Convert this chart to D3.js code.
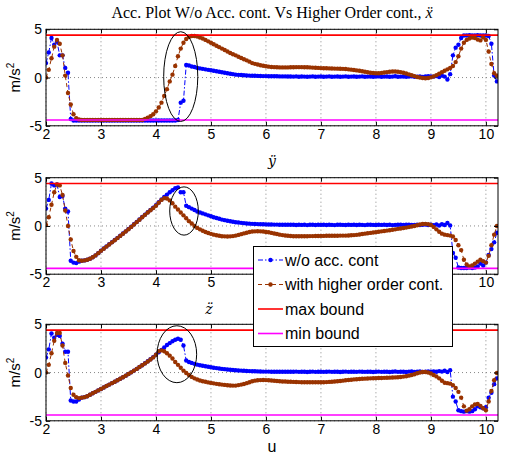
<!DOCTYPE html>
<html>
<head>
<meta charset="utf-8">
<script src="https://cdn.jsdelivr.net/npm/d3@7"></script>
<style>
  body { margin: 0; background: #fff; }
</style>
</head>
<body>
<div id="vis"></div>
<script>
// sample times, 2.00 .. 10.20 every 0.05
var t = d3.range(165).map(i => +(2 + i * 0.05).toFixed(2));

// x acceleration
var xWo = [
  1.5, 2.6, 4.1, 3.4, 3.7, 2.3, 2.3, 1.0, 0.5, -4.3,
  -4.45, -4.45, -4.45, -4.45, -4.45, -4.45, -4.45, -4.45, -4.45, -4.45,
  -4.45, -4.45, -4.45, -4.45, -4.45, -4.45, -4.45, -4.45, -4.45, -4.45,
  -4.45, -4.45, -4.45, -4.45, -4.45, -4.45, -4.45, -4.45, -4.45, -4.45,
  -4.45, -4.45, -4.45, -4.45, -4.45, -4.45, -4.45, -4.45, -4.4, -2.6,
  -2.4, 1.3, 1.25, 1.15, 1.1, 1.0, 0.95, 0.9, 0.85, 0.8,
  0.75, 0.7, 0.65, 0.6, 0.55, 0.5, 0.45, 0.4, 0.35, 0.3,
  0.28, 0.26, 0.24, 0.22, 0.2, 0.19, 0.18, 0.17, 0.16, 0.15,
  0.15, 0.14, 0.14, 0.13, 0.13, 0.12, 0.12, 0.12, 0.11, 0.11,
  0.1, 0.12, 0.09, 0.11, 0.1, 0.08, 0.1, 0.12, 0.09, 0.1,
  0.11, 0.08, 0.1, 0.12, 0.09, 0.1, 0.11, 0.08, 0.1, 0.12,
  0.09, 0.1, 0.11, 0.08, 0.1, 0.12, 0.09, 0.1, 0.11, 0.08,
  0.1, 0.12, 0.09, 0.1, 0.11, 0.08, 0.1, 0.13, 0.09, 0.1,
  0.11, 0.07, 0.1, 0.13, 0.09, 0.1, 0.12, 0.07, 0.11, 0.13,
  0.12, 0.1, 0.15, 0.05, 0.2, 0.1, -0.2, 0.35, 2.3, 3.1,
  3.4, 4.1, 4.35, 4.35, 4.4, 4.35, 4.35, 4.4, 4.35, 4.35,
  4.35, 4.3, 3.5, 0.2, -0.4
];
var xHo = [
  0.0, 0.8, 2.0, 3.2, 3.9, 3.5, 2.3, 0.2, -1.6, -2.8,
  -3.8, -4.2, -4.35, -4.4, -4.4, -4.4, -4.4, -4.4, -4.4, -4.4,
  -4.4, -4.4, -4.4, -4.4, -4.4, -4.4, -4.4, -4.4, -4.4, -4.4,
  -4.4, -4.4, -4.4, -4.4, -4.4, -4.4, -4.3, -4.15, -4.0, -3.8,
  -3.5, -3.1, -2.6, -1.9, -1.2, -0.4, 0.3, 1.2, 2.2, 3.0,
  3.6, 4.0, 4.2, 4.3, 4.3, 4.25, 4.15, 4.05, 3.9, 3.75,
  3.6, 3.45, 3.3, 3.15, 3.0, 2.85, 2.7, 2.55, 2.42, 2.3,
  2.15, 2.02, 1.9, 1.78, 1.65, 1.5, 1.42, 1.35, 1.28, 1.22,
  1.17, 1.13, 1.1, 1.08, 1.06, 1.05, 1.05, 1.05, 1.05, 1.06,
  1.07, 1.08, 1.08, 1.08, 1.07, 1.06, 1.05, 1.03, 1.02, 1.0,
  0.98, 0.97, 0.96, 0.95, 0.94, 0.93, 0.92, 0.91, 0.9, 0.88,
  0.85, 0.82, 0.78, 0.74, 0.7, 0.65, 0.6, 0.55, 0.5, 0.47,
  0.45, 0.45, 0.48, 0.52, 0.56, 0.6, 0.62, 0.62, 0.6, 0.56,
  0.5, 0.42, 0.33, 0.24, 0.15, 0.06, 0.0, -0.05, -0.08, -0.05,
  0.02, 0.12, 0.25, 0.4, 0.55, 0.7, 0.85, 1.0, 1.2, 1.6,
  2.2, 3.0, 3.6, 3.9, 4.05, 4.15, 4.1, 3.95, 3.85, 4.15,
  3.9, 2.7, 1.4, 0.45, 0.2
];

// y acceleration
var yWo = [
  1.8, 2.7, 4.4, 4.2, 4.3, 3.0, 3.1, 1.8, 1.5, -3.6,
  -3.8, -3.85, -3.7, -3.6, -3.57, -3.5, -3.4, -3.25, -3.05, -2.82,
  -2.56, -2.34, -2.12, -1.9, -1.68, -1.46, -1.24, -1.01, -0.79, -0.56,
  -0.32, -0.08, 0.17, 0.42, 0.67, 0.92, 1.17, 1.42, 1.65, 1.9,
  2.15, 2.45, 2.75, 3.0, 3.25, 3.5, 3.7, 3.9, 4.0, 3.5,
  3.5, 2.1, 1.95, 1.8, 1.65, 1.5, 1.4, 1.3, 1.2, 1.1,
  1.0, 0.9, 0.82, 0.74, 0.66, 0.6, 0.54, 0.48, 0.43, 0.39,
  0.35, 0.32, 0.29, 0.26, 0.24, 0.22, 0.2, 0.19, 0.18, 0.17,
  0.16, 0.15, 0.15, 0.14, 0.14, 0.13, 0.13, 0.12, 0.12, 0.12,
  0.12, 0.1, 0.13, 0.11, 0.12, 0.09, 0.12, 0.13, 0.1, 0.12,
  0.11, 0.13, 0.1, 0.12, 0.11, 0.09, 0.12, 0.13, 0.11, 0.1,
  0.12, 0.11, 0.13, 0.1, 0.12, 0.11, 0.09, 0.12, 0.13, 0.11,
  0.1, 0.12, 0.11, 0.13, 0.1, 0.12, 0.09, 0.11, 0.13, 0.12,
  0.1, 0.12, 0.14, 0.1, 0.11, 0.13, 0.09, 0.12, 0.15, 0.1,
  0.12, 0.08, 0.15, 0.05, 0.18, 0.1, 0.3, 0.05, -2.8, -3.3,
  -4.3, -4.35, -4.35, -4.35, -4.3, -4.35, -4.3, -4.2, -3.9, -4.1,
  -3.8, -3.0, -2.4, -1.7, -0.7
];
var yHo = [
  0.1, 0.9, 2.2, 3.5, 4.3, 4.2, 3.2, 1.6, 0.0, -1.4,
  -2.6, -3.2, -3.55, -3.6, -3.57, -3.5, -3.4, -3.25, -3.05, -2.82,
  -2.58, -2.36, -2.14, -1.92, -1.7, -1.48, -1.26, -1.03, -0.81, -0.58,
  -0.34, -0.1, 0.15, 0.4, 0.65, 0.9, 1.15, 1.4, 1.62, 1.85,
  2.1, 2.4, 2.7, 2.88, 2.85, 2.65, 2.35, 2.0, 1.7, 1.4,
  1.1, 0.8, 0.5, 0.25, 0.0, -0.2, -0.35, -0.5, -0.62, -0.73,
  -0.82, -0.9, -0.97, -1.02, -1.06, -1.08, -1.1, -1.08, -1.05, -1.0,
  -0.93, -0.85, -0.77, -0.7, -0.63, -0.58, -0.56, -0.55, -0.56, -0.58,
  -0.62, -0.66, -0.72, -0.78, -0.84, -0.9, -0.95, -0.99, -1.02, -1.04,
  -1.06, -1.07, -1.07, -1.07, -1.06, -1.06, -1.05, -1.05, -1.04, -1.04,
  -1.03, -1.03, -1.02, -1.02, -1.02, -1.01, -1.01, -1.0, -1.0, -1.0,
  -0.99, -0.97, -0.95, -0.92, -0.88, -0.84, -0.8, -0.76, -0.72, -0.68,
  -0.64, -0.6, -0.56, -0.52, -0.48, -0.44, -0.4, -0.35, -0.3, -0.26,
  -0.22, -0.17, -0.12, -0.06, 0.0, 0.08, 0.15, 0.2, 0.22, 0.18,
  0.1, -0.1, -0.35, -0.6, -0.8, -0.9, -0.95, -1.0, -1.1, -1.45,
  -2.0, -2.5, -3.5, -4.0, -4.2, -4.1, -3.9, -3.7, -3.5, -3.65,
  -3.8, -3.1, -2.0, -0.9, 0.0
];

// z acceleration
var zWo = [
  1.55, 2.4, 4.05, 3.6, 3.9, 3.8, 3.0, 2.15, 2.15, -2.9,
  -3.0, -3.0, -2.8, -2.6, -2.55, -2.45, -2.3, -2.15, -2.0, -1.85,
  -1.7, -1.55, -1.4, -1.25, -1.1, -0.95, -0.8, -0.64, -0.48, -0.32,
  -0.15, 0.02, 0.2, 0.38, 0.57, 0.76, 0.96, 1.17, 1.38, 1.6,
  1.85, 2.1, 2.35, 2.6, 2.85, 3.05, 3.25, 3.4, 3.5, 3.4,
  2.8, 1.25, 1.1, 1.0, 0.9, 0.82, 0.75, 0.7, 0.65, 0.6,
  0.55, 0.5, 0.46, 0.42, 0.38, 0.35, 0.32, 0.29, 0.26, 0.24,
  0.22, 0.2, 0.18, 0.16, 0.15, 0.14, 0.13, 0.12, 0.11, 0.1,
  0.1, 0.1, 0.09, 0.09, 0.09, 0.08, 0.08, 0.08, 0.08, 0.08,
  0.08, 0.1, 0.07, 0.09, 0.08, 0.06, 0.09, 0.1, 0.07, 0.08,
  0.09, 0.07, 0.08, 0.1, 0.07, 0.08, 0.09, 0.06, 0.08, 0.1,
  0.07, 0.08, 0.09, 0.07, 0.1, 0.08, 0.07, 0.09, 0.08, 0.06,
  0.08, 0.1, 0.07, 0.09, 0.08, 0.06, 0.09, 0.11, 0.07, 0.08,
  0.09, 0.06, 0.1, 0.12, 0.07, 0.09, 0.11, 0.06, 0.1, 0.12,
  0.1, 0.12, 0.08, 0.15, 0.1, 0.18, 0.05, 0.25, -2.5, -3.0,
  -3.9, -4.0, -4.05, -4.0, -4.05, -4.0, -3.8, -3.5, -3.6, -3.7,
  -3.6, -2.6, -2.1, -1.2, -0.6
];
var zHo = [
  0.0, 0.8, 2.0, 3.3, 4.1, 4.1, 2.8, 1.0, -0.3, -1.6,
  -2.3, -2.55, -2.65, -2.6, -2.55, -2.45, -2.3, -2.15, -2.0, -1.85,
  -1.7, -1.55, -1.4, -1.25, -1.1, -0.95, -0.8, -0.64, -0.48, -0.32,
  -0.15, 0.02, 0.2, 0.38, 0.57, 0.76, 0.95, 1.15, 1.35, 1.57,
  1.85, 2.2, 2.3, 2.2, 2.0, 1.75, 1.45, 1.1, 0.8, 0.5,
  0.2, -0.05, -0.25, -0.45, -0.6, -0.72, -0.82, -0.9, -0.96, -1.02,
  -1.07, -1.12, -1.17, -1.21, -1.25, -1.28, -1.32, -1.34, -1.35, -1.35,
  -1.3, -1.25, -1.18, -1.1, -1.0, -0.9, -0.84, -0.8, -0.78, -0.77,
  -0.78, -0.8, -0.82, -0.85, -0.87, -0.9, -0.92, -0.93, -0.95, -0.96,
  -0.97, -0.98, -0.99, -1.0, -1.0, -1.0, -1.0, -1.0, -1.0, -1.0,
  -1.0, -1.0, -0.99, -0.97, -0.95, -0.93, -0.9, -0.87, -0.84, -0.8,
  -0.77, -0.74, -0.71, -0.69, -0.67, -0.65, -0.63, -0.62, -0.6, -0.59,
  -0.58, -0.57, -0.56, -0.55, -0.54, -0.53, -0.52, -0.5, -0.48, -0.46,
  -0.42, -0.38, -0.32, -0.25, -0.17, -0.08, 0.0, 0.05, 0.05, 0.0,
  -0.1, -0.25, -0.4, -0.6, -0.85, -1.05, -1.1, -1.15, -1.3, -1.6,
  -2.0, -2.6, -3.5, -3.95, -3.8, -3.5, -3.3, -3.25, -3.45, -3.7,
  -3.9, -3.0, -1.9, -0.8, -0.05
];

var maxBound = 4.4, minBound = -4.4;
var xTicks = [2, 3, 4, 5, 6, 7, 8, 9, 10];
var yTicks = [-5, 0, 5];
var seriesNames = ['w/o acc. cont', 'with higher order cont.', 'max bound', 'min bound'];
var panelLabels = ['\u00ff', 'z\u0308'];
// circled regions, in data units: [panel, centre t, centre value, half-width, half-height]
var circles = [[0, 4.45, 0.1, 0.31, 4.65], [1, 4.51, 1.55, 0.26, 2.5], [2, 4.38, 1.9, 0.36, 2.95]];

var blue = '#0000ff', brown = '#993300', red = '#ff0000', magenta = '#ff00ff';

var W = 506, H = 458;
var plotL = 46, plotR = 498, plotH = 96.5;
var panelTops = [29.3, 177.7, 324.3];
var legBox = {x: 253.5, y: 246.5, w: 199, h: 100};

var svg = d3.select('#vis').append('svg')
    .attr('width', W)
    .attr('height', H)
    .style('font-family', '"Liberation Sans", Arial, sans-serif');

var x = d3.scaleLinear().domain([2, 10.22]).range([plotL, plotR]);

var panels = [[xWo, xHo], [yWo, yHo], [zWo, zHo]];

panels.forEach(function(p, k) {
    var top = panelTops[k];
    var y = d3.scaleLinear().domain([-5, 5]).range([top + plotH, top]);
    var g = svg.append('g');

    g.append('clipPath').attr('id', 'clip' + k)
      .append('rect')
        .attr('x', plotL).attr('y', top)
        .attr('width', plotR - plotL).attr('height', plotH);

    // dotted grid
    g.selectAll(null).data(xTicks).enter().append('line')
        .attr('x1', d => x(d)).attr('x2', d => x(d))
        .attr('y1', top).attr('y2', top + plotH)
        .attr('stroke', '#888').attr('stroke-dasharray', '1,3');
    g.selectAll(null).data(yTicks).enter().append('line')
        .attr('x1', plotL).attr('x2', plotR)
        .attr('y1', d => y(d)).attr('y2', d => y(d))
        .attr('stroke', '#888').attr('stroke-dasharray', '1,3');

    var plot = g.append('g').attr('clip-path', 'url(#clip' + k + ')');
    var line = d3.line().x((d, i) => x(t[i])).y(d => y(d));

    [[p[0], blue, '5,2,1.5,2'], [p[1], brown, '4,3']].forEach(function(s) {
        plot.append('path')
            .datum(s[0])
            .attr('d', line)
            .attr('fill', 'none')
            .attr('stroke', s[1])
            .attr('stroke-width', 1)
            .attr('stroke-dasharray', s[2]);
        plot.selectAll(null).data(s[0]).enter().append('circle')
            .attr('cx', (d, i) => x(t[i]))
            .attr('cy', d => y(d))
            .attr('r', 2.2)
            .attr('fill', s[1]);
    });

    [[maxBound, red], [minBound, magenta]].forEach(function(b) {
        plot.append('line')
            .attr('x1', plotL).attr('x2', plotR)
            .attr('y1', y(b[0])).attr('y2', y(b[0]))
            .attr('stroke', b[1]).attr('stroke-width', 1.6);
    });

    circles.filter(c => c[0] === k).forEach(function(c) {
        g.append('ellipse')
            .attr('cx', x(c[1])).attr('cy', y(c[2]))
            .attr('rx', x(c[1] + c[3]) - x(c[1]))
            .attr('ry', y(c[2] - c[4]) - y(c[2]))
            .attr('fill', 'none').attr('stroke', '#000').attr('stroke-width', 1);
    });

    // axes, ticks pointing inwards
    var bottom = g.append('g')
        .attr('transform', 'translate(0,' + (top + plotH) + ')')
        .call(d3.axisBottom(x).tickValues(xTicks).tickSize(-4).tickPadding(3).tickFormat(String));
    g.append('g')
        .attr('transform', 'translate(0,' + top + ')')
        .call(d3.axisTop(x).tickValues(xTicks).tickSize(-4).tickFormat(''));
    var left = g.append('g')
        .attr('transform', 'translate(' + plotL + ',0)')
        .call(d3.axisLeft(y).tickValues(yTicks).tickSize(-4).tickPadding(4).tickFormat(String));
    g.append('g')
        .attr('transform', 'translate(' + plotR + ',0)')
        .call(d3.axisRight(y).tickValues(yTicks).tickSize(-4).tickFormat(''));
    g.selectAll('.domain').remove();
    g.selectAll('.tick line').attr('stroke', '#000');
    [bottom, left].forEach(a => a.attr('font-size', 14).attr('font-family', null)
        .selectAll('text').attr('fill', '#000'));

    // tick labels that sit under the legend box are hidden in the figure
    var axisY = top + plotH;
    if (axisY > legBox.y && axisY < legBox.y + legBox.h) {
        bottom.selectAll('.tick text')
            .filter(d => x(d) - 6 > legBox.x && x(d) + 6 < legBox.x + legBox.w)
            .remove();
    }

    g.append('rect')
        .attr('x', plotL).attr('y', top)
        .attr('width', plotR - plotL).attr('height', plotH)
        .attr('fill', 'none').attr('stroke', '#000').attr('stroke-width', 1);

    var yl = g.append('text')
        .attr('transform', 'translate(20,' + (top + plotH / 2) + ') rotate(-90)')
        .attr('text-anchor', 'middle')
        .attr('font-size', 15);
    yl.append('tspan').text('m/s');
    yl.append('tspan').attr('font-size', 10).attr('dy', -6).text('2');
});

// titles
var title = svg.append('text')
    .attr('x', 272).attr('y', 18)
    .attr('text-anchor', 'middle')
    .style('font-family', '"Liberation Serif", "DejaVu Serif", serif')
    .attr('font-size', 16)
    .text('Acc. Plot W/o Acc. cont. Vs Higher Order cont., ');
title.append('tspan').attr('font-style', 'italic').text('\u1e8d');

svg.append('text')
    .attr('x', 272).attr('y', 166)
    .attr('text-anchor', 'middle')
    .style('font-family', '"DejaVu Serif", serif')
    .attr('font-style', 'italic')
    .attr('font-size', 14)
    .text(panelLabels[0]);
svg.append('text')
    .attr('x', 209).attr('y', 314)
    .attr('text-anchor', 'middle')
    .style('font-family', '"DejaVu Serif", serif')
    .attr('font-style', 'italic')
    .attr('font-size', 14)
    .text(panelLabels[1]);

svg.append('text')
    .attr('x', 272).attr('y', 452)
    .attr('text-anchor', 'middle')
    .attr('font-size', 16)
    .text('u');

// legend
var leg = svg.append('g');
leg.append('rect')
    .attr('x', legBox.x).attr('y', legBox.y)
    .attr('width', legBox.w).attr('height', legBox.h)
    .attr('fill', '#fff').attr('stroke', '#000').attr('stroke-width', 1);
var legStyles = [[blue, '5,2,1.5,2', true], [brown, '4,3', true], [red, null, false], [magenta, null, false]];
seriesNames.forEach(function(name, i) {
    var ly = 260 + i * 24.5;
    var st = legStyles[i];
    leg.append('line')
        .attr('x1', 258).attr('x2', 283)
        .attr('y1', ly).attr('y2', ly)
        .attr('stroke', st[0])
        .attr('stroke-width', st[2] ? 1 : 1.6)
        .attr('stroke-dasharray', st[1]);
    if (st[2]) {
        leg.append('circle').attr('cx', 270.5).attr('cy', ly).attr('r', 2.2).attr('fill', st[0]);
    }
    leg.append('text')
        .attr('x', 285).attr('y', ly + 5.5)
        .attr('font-size', 16)
        .text(name);
});
</script>
</body>
</html>
